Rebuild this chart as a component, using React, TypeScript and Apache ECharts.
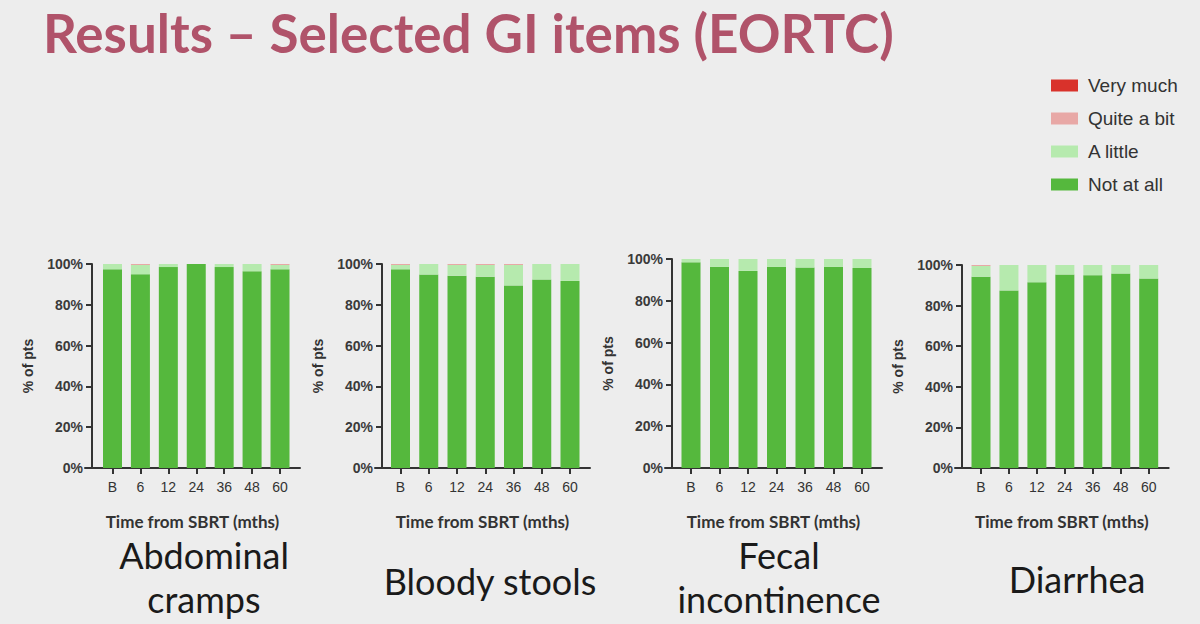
import React, { useEffect, useRef } from "react";
import * as echarts from "echarts";

// time points (months from SBRT)
const categories = ["B", "6", "12", "24", "36", "48", "60"];
const levels = ["Not at all", "A little", "Quite a bit", "Very much"];
const legendOrder = ["Very much", "Quite a bit", "A little", "Not at all"];
const levelColors = ["#55b83d", "#b6eaae", "#e8a8a6", "#d9322b"];
const yTicks = [0, 20, 40, 60, 80, 100];

// % of patients per answer
const abdominalNotAtAll = [97.4, 95, 98.5, 100, 98.5, 96.5, 97.4];
const abdominalLittle = [2.6, 4.5, 1.5, 0, 1.5, 3.5, 2.1];
const abdominalQuite = [0, 0.5, 0, 0, 0, 0, 0.5];
const abdominalVery = [0, 0, 0, 0, 0, 0, 0];

const bloodyNotAtAll = [97.4, 94.8, 94.3, 93.8, 89.5, 92.4, 91.7];
const bloodyLittle = [2.1, 5.2, 5.2, 5.7, 10, 7.6, 8.3];
const bloodyQuite = [0.5, 0, 0.5, 0.5, 0.5, 0, 0];
const bloodyVery = [0, 0, 0, 0, 0, 0, 0];

const fecalNotAtAll = [98.4, 96.2, 94.3, 96.2, 95.9, 96.2, 95.7];
const fecalLittle = [1.6, 3.8, 5.7, 3.8, 4.1, 3.8, 4.3];
const fecalQuite = [0, 0, 0, 0, 0, 0, 0];
const fecalVery = [0, 0, 0, 0, 0, 0, 0];

const diarrheaNotAtAll = [94.2, 87.5, 91.5, 95.3, 95, 95.8, 93.3];
const diarrheaLittle = [5.3, 12.5, 8.5, 4.7, 5, 4.2, 6.7];
const diarrheaQuite = [0.5, 0, 0, 0, 0, 0, 0];
const diarrheaVery = [0, 0, 0, 0, 0, 0, 0];

const panelData = [
  [abdominalNotAtAll, abdominalLittle, abdominalQuite, abdominalVery],
  [bloodyNotAtAll, bloodyLittle, bloodyQuite, bloodyVery],
  [fecalNotAtAll, fecalLittle, fecalQuite, fecalVery],
  [diarrheaNotAtAll, diarrheaLittle, diarrheaQuite, diarrheaVery],
];
const panelTitles = [
  ["Abdominal", "cramps"],
  ["Bloody stools"],
  ["Fecal", "incontinence"],
  ["Diarrhea"],
];

// layout of each small chart (pixels)
const panelLayout = [
  { axisX: 92, first: 112.5, last: 280, top: 264, titleX: 204, titleY: [555, 599] },
  { axisX: 382, first: 400.5, last: 570, top: 264, titleX: 490, titleY: [581] },
  { axisX: 672, first: 691, last: 862, top: 259, titleX: 779, titleY: [555, 599] },
  { axisX: 962, first: 981, last: 1148.7, top: 265, titleX: 1077, titleY: [579] },
];
const gridBottom = 468;

const App: React.FC = () => {
  const chartRef = useRef<HTMLDivElement>(null);

  useEffect(() => {
    if (!chartRef.current) return;
    document.body.style.margin = "0";
    document.body.style.background = "#ededed";
    const chart = echarts.init(chartRef.current, null, { renderer: "svg" });

    const grids: any[] = [];
    const xAxes: any[] = [];
    const yAxes: any[] = [];
    const series: any[] = [];
    const graphics: any[] = [];

    panelLayout.forEach((p, k) => {
      const unit = (p.last - p.first) / (categories.length - 1);
      const left = p.axisX - 7;
      const right = p.last + 20;
      grids.push({ left, top: p.top, width: right - left, height: gridBottom - p.top });
      xAxes.push({
        gridIndex: k,
        type: "value",
        min: -(p.first - left) / unit,
        max: categories.length - 1 + 20 / unit,
        name: "Time from SBRT (mths)",
        nameLocation: "middle",
        nameGap: 45,
        nameTextStyle: { fontFamily: "Lato", fontWeight: "bold", fontSize: 17, color: "#333" },
        axisLine: { lineStyle: { color: "#333", width: 2 } },
        axisTick: {
          length: 6,
          lineStyle: { color: "#333", width: 2 },
          customValues: categories.map((_, i) => i),
        },
        axisLabel: {
          customValues: categories.map((_, i) => i),
          formatter: (v: number) => categories[Math.round(v)],
          margin: 12,
          fontFamily: "Liberation Sans",
          fontSize: 14,
          color: "#333",
        },
        splitLine: { show: false },
      });
      yAxes.push({
        gridIndex: k,
        type: "value",
        min: yTicks[0],
        max: yTicks[yTicks.length - 1],
        interval: 20,
        offset: -7,
        name: "% of pts",
        nameLocation: "middle",
        nameGap: 57,
        nameTextStyle: { fontFamily: "Liberation Sans", fontWeight: "bold", fontSize: 14, color: "#333" },
        axisLine: { show: true, onZero: false, lineStyle: { color: "#333", width: 2 } },
        axisTick: { show: true, length: 6, lineStyle: { color: "#333", width: 2 } },
        axisLabel: {
          formatter: "{value}%",
          margin: 9,
          fontFamily: "Liberation Sans",
          fontWeight: "bold",
          fontSize: 14,
          color: "#3a3a3a",
        },
        splitLine: { show: false },
      });
      levels.forEach((name, j) => {
        series.push({
          name,
          type: "bar",
          xAxisIndex: k,
          yAxisIndex: k,
          stack: "panel" + k,
          barWidth: 19,
          itemStyle: { color: levelColors[j] },
          // value first so that the stack runs on the y values
          dimensions: [
            { name: "pct", type: "float" },
            { name: "time", type: "float" },
          ],
          encode: { x: "time", y: "pct" },
          data: panelData[k][j].map((v, i) => [v, i]),
        });
      });
      panelTitles[k].forEach((line, li) => {
        graphics.push({
          type: "text",
          x: p.titleX,
          y: p.titleY[li],
          style: {
            text: line,
            fontFamily: "Lato",
            fontSize: 36,
            fill: "#1a1a1a",
            textAlign: "center",
            textVerticalAlign: "middle",
          },
        });
      });
    });

    const option = {
      animation: false,
      backgroundColor: "#ededed",
      title: {
        text: "Results – Selected GI items (EORTC)",
        left: 38,
        top: 1,
        textStyle: { fontFamily: "Lato", fontWeight: "bold", fontSize: 53, color: "#b0536a" },
      },
      legend: {
        data: legendOrder,
        orient: "vertical",
        left: 1046,
        top: 71,
        itemWidth: 27,
        itemHeight: 12,
        itemGap: 14,
        icon: "rect",
        selectedMode: false,
        textStyle: { fontFamily: "Liberation Sans", fontSize: 19, color: "#333", padding: [0, 0, 0, 5] },
      },
      grid: grids,
      xAxis: xAxes,
      yAxis: yAxes,
      series,
      graphic: graphics,
    };

    chart.setOption(option);
    return () => {
      chart.dispose();
    };
  }, []);

  return <div ref={chartRef} style={{ width: 1200, height: 624 }} />;
};

export default App;
